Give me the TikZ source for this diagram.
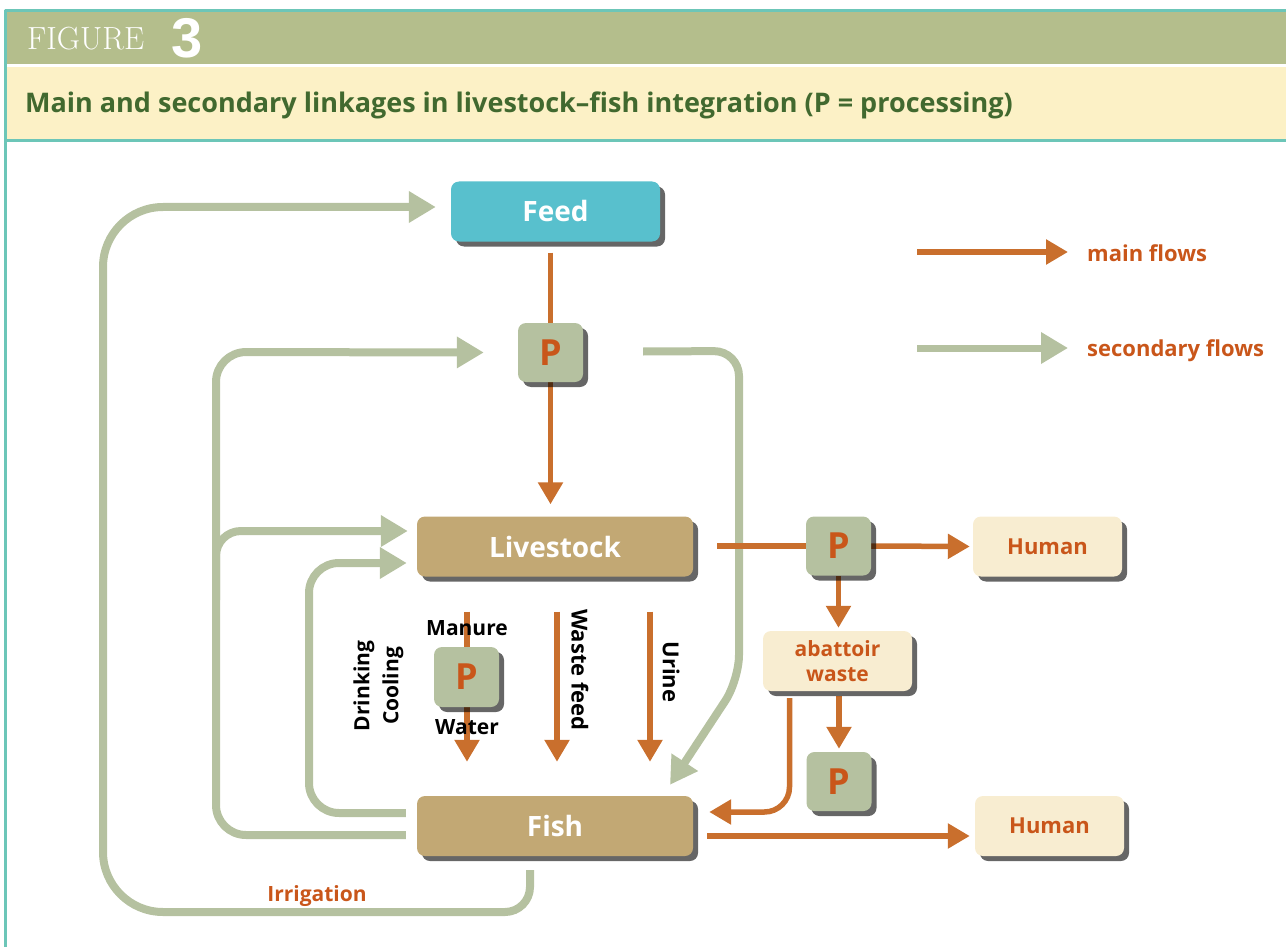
\documentclass[tikz,border=0pt]{standalone}
\usepackage{fontspec}
\setmainfont{Open Sans}
\newfontfamily\numfont{Liberation Sans}
\newfontfamily\capfont{Latin Modern Roman}
\usetikzlibrary{arrows.meta,shadows,backgrounds}

\definecolor{mainor}{HTML}{C96F2D}
\definecolor{txtor}{HTML}{C9561A}
\definecolor{secgr}{HTML}{B5C1A0}
\definecolor{feedbl}{HTML}{58C0CD}
\definecolor{boxtan}{HTML}{C2A874}
\definecolor{pgreen}{HTML}{B5C1A0}
\definecolor{cream}{HTML}{F8EDD1}
\definecolor{hdrgreen}{HTML}{B4BE8C}
\definecolor{hdrcream}{HTML}{FCF1C6}
\definecolor{framecol}{HTML}{6CC6B8}
\definecolor{titlegr}{HTML}{41692F}

\begin{document}
\begin{tikzpicture}[x=1pt,y=-1pt,line join=round,
    fs/.style={font=\bfseries\fontsize{#1}{#1}\selectfont},
    box/.style={rounded corners=8pt,minimum height=60pt,inner sep=0pt,
      drop shadow={shadow xshift=5pt,shadow yshift=-5pt,opacity=.6,fill=black}},
    bigbox/.style={box,fill=boxtan,minimum width=276pt,text=white,fs=28},
    pbox/.style={box,fill=pgreen,minimum width=65pt,minimum height=59pt,text=txtor,fs=36},
    sink/.style={box,fill=cream,minimum width=149pt,text=txtor,fs=22,align=center},
    main/.style={draw=mainor,line width=5.5pt,-{Triangle[width=24pt,length=22pt]}},
    sec/.style={draw=secgr,line width=8pt,rounded corners=30pt,-{Triangle[width=30pt,length=27pt]}},
    lab/.style={fs=21}]
\useasboundingbox (0,0) rectangle (1286,947);

% header
\fill[hdrgreen] (6,12) rectangle (1286,64);
\fill[hdrcream] (6,67) rectangle (1286,139);
\draw[framecol,line width=3pt] (1286,10.5) -- (5.5,10.5) -- (5.5,947);
\draw[framecol,line width=3pt] (5.5,141) -- (1286,141);
\node[anchor=base west,inner sep=0pt,text=white,font=\capfont\fontsize{32}{32}\selectfont] (figlab) at (27,50) {FIGURE};
\node[anchor=base west,inner sep=0pt,text=white,font=\numfont\bfseries\fontsize{56}{56}\selectfont] (fignum) at (171,58) {3};
\node[anchor=base west,inner sep=0pt,text=titlegr,fs=27] (title) at (25,113) {Main and secondary linkages in livestock--fish integration (P = processing)};

% boxes
\node[box,fill=feedbl,minimum width=209pt,text=white,fs=28] (feed) at (555.5,211.5) {Feed};
\node[pbox] (p1) at (550.5,352.5) {P};
\node[bigbox] (live) at (555,546.5) {Livestock};
\node[pbox] (p2) at (838.5,546) {P};
\node[sink] (hum1) at (1047.5,546.5) {Human};
\node[sink,font=\bfseries\fontsize{21}{25}\selectfont] (waste) at (837.5,661) {abattoir\\waste};
\node[pbox] (p3) at (839,781.5) {P};
\node[sink] (hum2) at (1049.5,826) {Human};
\node[bigbox] (fish) at (555,826) {Fish};
\node[pbox,minimum height=60pt] (pm) at (466.5,677) {P};

% labels
\node[lab] (manure) at (467,628) {Manure};
\node[lab] (water) at (467,727) {Water};
\node[lab,rotate=90] (drink) at (364,686) {Drinking};
\node[lab,rotate=90] (cool) at (393,686) {Cooling};
\node[lab,rotate=-90,fs=22] (wfeed) at (580,670) {Waste feed};
\node[lab,rotate=-90,fs=22] (urine) at (671,672) {Urine};
\node[fs=21,text=txtor] (irr) at (317,896) {Irrigation};

% legend
\coordinate (lm) at (917,252);
\coordinate (ls) at (917,348);
\node[anchor=west,inner sep=0pt,text=txtor,fs=22] (mainlab) at (1087,253) {main flows};
\node[anchor=west,inner sep=0pt,text=txtor,fs=22] (seclab) at (1087,351) {secondary flows};

\begin{scope}[on background layer]
  % secondary flows
  \draw[sec] ([xshift=-25pt,yshift=-14pt]fish.south) [rounded corners=25pt] -- (530,912) [rounded corners=60pt] -- (103,912) -- (103,207) -- ([xshift=-15pt,yshift=4.5pt]feed.west);
  \draw[sec] ([xshift=-11pt,yshift=-9pt]fish.west) -- (216,835) -- (216,352) -- ([xshift=-34pt]p1.west);
  \draw[sec,rounded corners=25pt] (216,600) -- (216,531) -- ([xshift=-9pt,yshift=15.5pt]live.west);
  \draw[sec] ([xshift=-11pt,yshift=13pt]fish.west) -- (309,813) -- (309,563) -- ([xshift=-10pt,yshift=-16.5pt]live.west);
  \draw[sec,rounded corners=25pt] ([xshift=60pt,yshift=1pt]p1.east) -- (739,351) -- (739,680) -- ([xshift=115pt,yshift=11pt]fish.north);
  \draw[sec,line width=7pt] (ls) -- ([xshift=-19pt]seclab.west |- ls);
  % main flows
  \draw[main,-,shorten <=11pt] (p1.north |- feed.south) -- (p1.north);
  \draw[main,shorten >=12pt] (p1) -- (p1 |- live.north);
  \draw[main,-,shorten <=24pt] (live.east |- p2) -- (p2);
  \draw[main,shorten >=3pt] (p2.east) -- (hum1.west);
  \draw[main,shorten >=3pt] (p2) -- (p2 |- waste.north);
  \draw[main,shorten <=5pt,shorten >=3pt] (p3 |- waste.south) -- (p3.north);
  \draw[main,rounded corners=25pt] ([xshift=-48pt,yshift=-7pt]waste.south) |- ([xshift=16pt,yshift=14pt]fish.east);
  \draw[main,shorten >=5pt] ([xshift=14pt,yshift=-10pt]fish.east) -- ([yshift=-10pt]hum2.west);
  \foreach \dx in {-88,2,95}
    \draw[main] ([xshift=\dx pt,yshift=-35pt]live.south) -- ([xshift=\dx pt,yshift=34pt]fish.north);
  \draw[main] (lm) -- ([xshift=-19pt]mainlab.west |- lm);
\end{scope}
\end{tikzpicture}
\end{document}
